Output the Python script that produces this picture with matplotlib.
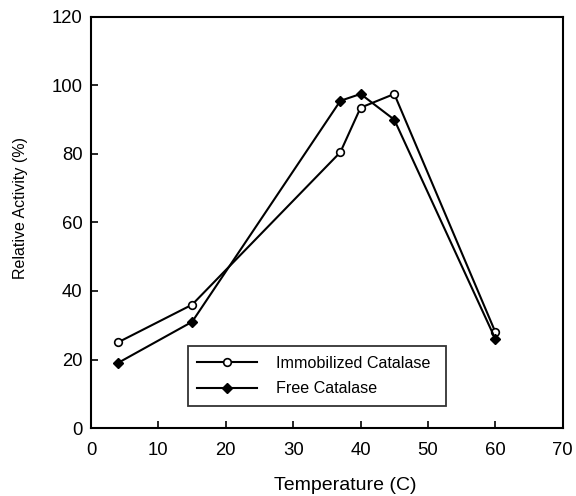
import numpy as np
import matplotlib
matplotlib.use("Agg")
import matplotlib.pyplot as plt

plt.rcParams['font.family'] = ['Liberation Sans', 'DejaVu Sans']

# temperature (C) and relative activity (%)
temp = [4, 15, 37, 40, 45, 60]
immobilized = [25, 36, 80.5, 93.5, 97.5, 28]
free = [19, 31, 95.5, 97.5, 90, 26]

xticks = [0, 10, 20, 30, 40, 50, 60, 70]
yticks = [0, 20, 40, 60, 80, 100, 120]

fig = plt.figure(figsize=(5.76, 4.96), dpi=100)
ax = fig.add_axes([0.158, 0.137, 0.819, 0.829])

ax.plot(temp, immobilized, color='black', lw=1.5, marker='o', ms=5.5,
        mfc='white', mec='black', mew=1.2, label='Immobilized Catalase')
ax.plot(temp, free, color='black', lw=1.5, marker='D', ms=5,
        mfc='black', mec='black', label='Free Catalase')

ax.set_xlim(0, 70)
ax.set_ylim(0, 120)
ax.set_xticks(xticks)
ax.set_yticks(yticks)
ax.tick_params(direction='in', length=5, width=1.2, labelsize=13.3,
               top=False, right=False)
ax.tick_params(axis='x', pad=10)
ax.tick_params(axis='y', pad=6)
for s in ax.spines.values():
    s.set_linewidth(1.5)

ax.set_xlabel('Temperature (C)', fontsize=14)
ax.set_ylabel('Relative Activity (%)', fontsize=11.5)
ax.xaxis.set_label_coords(0.538, -0.12)
ax.yaxis.set_label_coords(-0.133, 0.535)

leg = ax.legend(loc='lower left', bbox_to_anchor=(0.205, 0.054, 0.547, 0.146),
                mode='expand', fontsize=11.6, frameon=True, fancybox=False,
                handlelength=3.7, handletextpad=1.2, borderpad=0.6,
                labelspacing=0.65, borderaxespad=0)
leg.get_frame().set_edgecolor('black')
leg.get_frame().set_linewidth(1.3)

plt.savefig('out.png', dpi=100)
